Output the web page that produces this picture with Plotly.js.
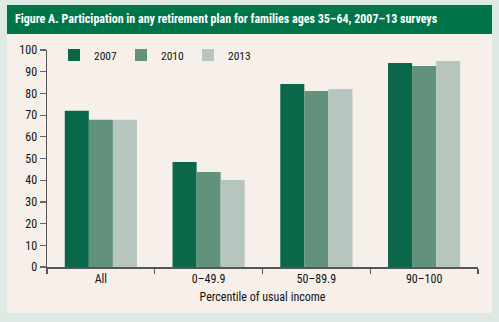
<!DOCTYPE html>
<html><head><meta charset="utf-8">
<script src="https://cdn.plot.ly/plotly-3.0.1.min.js"></script>
<style>html,body{margin:0;padding:0;background:#dde9e2;}#c{width:499px;height:322px;}</style>
</head><body><div id="c"></div>
<script>
const categories = ["All", "0\u201349.9", "50\u201389.9", "90\u2013100"];
const years = ["2007", "2010", "2013"];
const v2007 = [72.0, 48.4, 84.3, 94.0];
const v2010 = [67.8, 43.8, 81.1, 92.6];
const v2013 = [67.8, 40.1, 82.0, 94.9];
const yTicks = [0,10,20,30,40,50,60,70,80,90,100];

const colors = ["#0a6749", "#62917c", "#b6c6be"];
const series = [v2007, v2010, v2013];
const FONT = "Liberation Sans Narrow, Arial Narrow, Roboto Condensed, Liberation Sans, sans-serif";

const W = 499, H = 322, L = 47, R = 21, T = 50, B = 55;
const pw = W - L - R, ph = H - T - B;
const px = x => (x - L) / pw;
const py = y => (H - B - y) / ph;

const data = series.map((s, i) => ({
  type: "bar", name: years[i], x: categories, y: s,
  marker: {color: colors[i], line: {width: 0}}, hoverinfo: "skip"
}));

const layout = {
  width: W, height: H,
  margin: {l: L, r: R, t: T, b: B, pad: 0},
  paper_bgcolor: "#dde9e2", plot_bgcolor: "rgba(0,0,0,0)",
  font: {family: FONT, size: 12, color: "#111"},
  barmode: "group", bargap: 0.33, bargroupgap: 0,
  showlegend: true,
  legend: {orientation: "h", x: px(54), xanchor: "left", y: py(55), yanchor: "middle",
    bgcolor: "rgba(0,0,0,0)", font: {family: FONT, size: 11.5, color: "#111"},
    entrywidth: 22, itemwidth: 30, traceorder: "normal"},
  title: {text: "<b>Figure A. Participation in any retirement plan for families ages 35\u201364, 2007\u201313 surveys</b>",
    x: 15 / W, xref: "container", xanchor: "left", y: 1 - 19 / H, yref: "container", yanchor: "middle",
    font: {family: FONT, size: 12, color: "#ffffff"}},
  xaxis: {type: "category", range: [-0.5, 3.5], showline: true, linecolor: "#555", linewidth: 1.5,
    ticks: "outside", tickson: "boundaries", ticklen: 5, tickcolor: "#555", tickwidth: 1.2,
    showgrid: false, zeroline: false, tickfont: {size: 12, color: "#111"},
    title: {text: "Percentile of usual income", font: {size: 12, color: "#111"}, standoff: 7}},
  yaxis: {range: [0, 100], tickvals: yTicks, ticktext: yTicks.map(String), showline: true, linecolor: "#555", linewidth: 1.5,
    ticks: "outside", ticklen: 6, tickcolor: "#666", tickwidth: 1.2, showgrid: false, zeroline: false,
    tickfont: {size: 12, color: "#111"}},
  shapes: [
    {type: "rect", xref: "paper", yref: "paper", x0: px(7), x1: px(492), y0: py(313), y1: py(5),
      fillcolor: "#f7f0ea", line: {width: 0}, layer: "below"},
    {type: "rect", xref: "paper", yref: "paper", x0: px(7), x1: px(492), y0: py(34), y1: py(5),
      fillcolor: "#00754a", line: {width: 0}, layer: "below"}
  ]
};

Plotly.newPlot("c", data, layout, {displayModeBar: false, staticPlot: true});
</script></body></html>
